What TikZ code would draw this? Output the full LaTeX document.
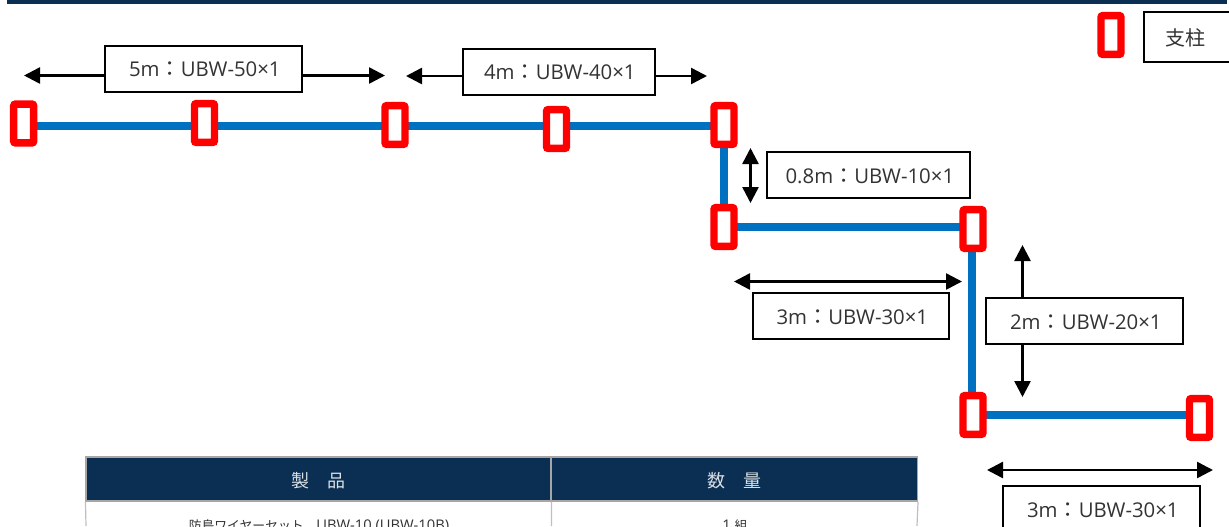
\documentclass[tikz,border=0pt]{standalone}
\usepackage{fontspec}
\setmainfont{Open Sans}[Scale=0.96]
\newfontfamily\cjk{Noto Sans CJK JP}
\usetikzlibrary{arrows.meta,backgrounds}
\definecolor{navy}{HTML}{0A2F52}
\definecolor{wire}{HTML}{0070C0}
\definecolor{ink}{HTML}{333333}
\newcommand{\fwcolon}{{\cjk ：}}
\newcommand{\nudged}[1]{\hspace*{2pt}#1}
\tikzset{
  post/.style={draw=red,fill=white,line width=5.6pt,rounded corners=1.5pt,minimum width=15pt,minimum height=29.2pt,inner sep=0pt},
  wireline/.style={draw=wire,line width=6pt},
  dim/.style={draw=black,line width=1.9pt,{Triangle[length=12pt,width=12pt]}-{Triangle[length=12pt,width=12pt]},shorten <=0pt,shorten >=0pt},
  lab/.style={draw=black,fill=white,line width=1.5pt,inner sep=0pt,text=ink,font=\fontsize{15.9pt}{18pt}\selectfont,minimum height=34.5pt,text height=12.4pt,text depth=0pt},
  headcell/.style={fill=navy,draw=black!35,line width=0.8pt,inner sep=0pt,minimum height=33pt,text=white!85!navy,font=\cjk\fontsize{13.5pt}{16pt}\selectfont,text height=13pt,text depth=0pt},
  bodytxt/.style={inner sep=0pt,text=ink,font=\fontsize{11.5pt}{14pt}\selectfont},
  gridline/.style={draw=black!25,line width=0.9pt}
}
\begin{document}
\begin{tikzpicture}[x=0.75pt,y=-0.75pt]
\clip (0,0) rectangle (1229,526);
\useasboundingbox (0,0) rectangle (1229,526);
\node[fill=navy,inner sep=0pt,minimum width=915pt,minimum height=3pt] (bar) at (617,2) {};
% table
\node[headcell,minimum width=348.75pt] (h1) at (318.5,479) {製　品};
\node[headcell,minimum width=274.5pt] (h2) at (734.5,479) {数　量};
\coordinate (b1) at (86,526);
\coordinate (b2) at (551.5,526);
\coordinate (b3) at (917,526);
\draw[gridline] (h1.south west) -- (b1);
\draw[gridline] (h1.south east) -- (b2);
\draw[gridline] (h2.south east) -- (b3);
\node[bodytxt,anchor=base] (t1) at (319,530) {{\cjk\fontsize{9.6pt}{12pt}\selectfont 防鳥ワイヤーセット　}UBW-10 (UBW-10B)};
\node[bodytxt,anchor=base] (t2) at (735,530) {1 {\cjk\fontsize{9.6pt}{12pt}\selectfont 組}};
% posts
\node[post] (p1) at (23.7,123.5) {};
\node[post] (p2) at (204.5,123) {};
\node[post] (p3) at (395,125) {};
\node[post] (p4) at (556.5,129) {};
\node[post] (p5) at (724,125) {};
\node[post] (p6) at (724,227) {};
\node[post] (p7) at (973,229) {};
\node[post] (p8) at (973,415) {};
\node[post] (p9) at (1199.5,418) {};
\node[post] (legendpost) at (1111,35) {};
\coordinate (y1) at (0,125.5);
\coordinate (x1) at (723.7,0);
\coordinate (y2) at (0,227);
\coordinate (x2) at (971.7,0);
\coordinate (y3) at (0,415);
\begin{pgfonlayer}{background}
\draw[wireline] (p1 |- y1) -- (p5 |- y1);
\draw[wireline] (x1 |- p5) -- (x1 |- p6);
\draw[wireline] (p6 |- y2) -- (p7 |- y2);
\draw[wireline] (x2 |- p7) -- (x2 |- p8);
\draw[wireline] (p8 |- y3) -- (p9 |- y3);
\end{pgfonlayer}
% dimension arrows
\coordinate (a1l) at (24,75.5); \coordinate (a1r) at (385,75.5);
\coordinate (a2l) at (406,76); \coordinate (a2r) at (707,76);
\coordinate (a3t) at (750.5,148); \coordinate (a3b) at (750.5,203);
\coordinate (a4l) at (734,281.5); \coordinate (a4r) at (962,281.5);
\coordinate (a5t) at (1022.5,245); \coordinate (a5b) at (1022.5,397);
\coordinate (a6l) at (987,470); \coordinate (a6r) at (1213,470);
\draw[dim] (a1l) -- (a1r);
\draw[dim] (a2l) -- (a2r);
\draw[dim] (a3t) -- (a3b);
\draw[dim] (a4l) -- (a4r);
\draw[dim] (a5t) -- (a5b);
\draw[dim] (a6l) -- (a6r);
% labels
\node[lab,minimum width=147.5pt] (l1) at (203.5,68.5) {\nudged{5m\fwcolon UBW-50×1}};
\node[lab,minimum width=144pt] (l2) at (558.5,71.5) {\nudged{4m\fwcolon UBW-40×1}};
\node[lab,minimum width=152.5pt] (l3) at (868.5,175) {\nudged{0.8m\fwcolon UBW-10×1}};
\node[lab,minimum width=147pt] (l4) at (851,316) {\nudged{3m\fwcolon UBW-30×1}};
\node[lab,minimum width=147.5pt] (l5) at (1084.5,321) {\nudged{2m\fwcolon UBW-20×1}};
\node[lab,minimum width=147.5pt] (l6) at (1101.5,509) {\nudged{3m\fwcolon UBW-30×1}};
\node[lab,minimum width=67pt,minimum height=37.5pt,text height=12.7pt,font=\cjk\fontsize{15pt}{18pt}\selectfont] (legend) at (1188.5,37) {\hspace*{-5.25pt}支柱};
\end{tikzpicture}
\end{document}
